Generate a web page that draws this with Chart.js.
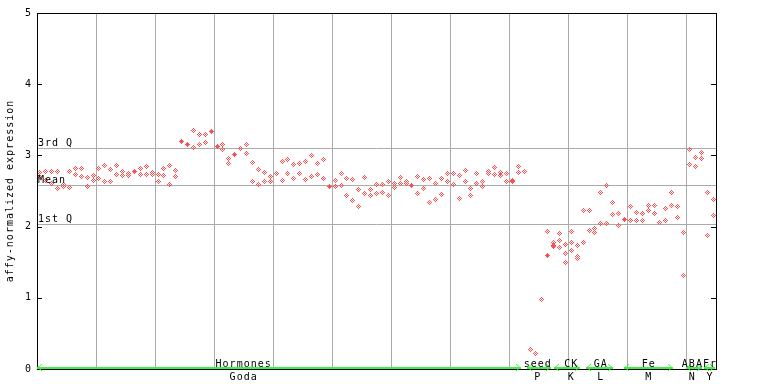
<!DOCTYPE html>
<html><head><meta charset="utf-8">
<script src="https://cdn.jsdelivr.net/npm/chart.js@4"></script>
<style>html,body{margin:0;padding:0;background:#fff;overflow:hidden}canvas{display:block}</style>
</head><body>
<canvas id="c" width="768" height="384"></canvas>
<script>
// ---- data ----
const repA = [
 2.76,2.78,2.77,2.77,2.59,2.77,2.82,2.82,2.69,2.72,
 2.82,2.86,2.80,2.86,2.78,2.75,null,2.82,2.84,2.76,
 2.73,2.82,2.86,2.79,null,null,3.35,3.30,3.30,null,
 null,3.16,2.96,null,3.10,3.16,2.90,2.80,2.76,2.71,
 2.75,2.91,2.94,2.87,2.88,2.92,3.00,2.88,2.94,null,
 2.65,2.75,2.68,2.66,2.52,2.69,2.52,2.59,2.59,2.63,
 2.61,2.69,2.63,null,2.71,2.66,2.68,2.61,2.68,2.75,
 2.75,2.72,2.79,2.54,2.75,2.63,2.78,2.83,2.76,2.75,
 2.65,2.85,2.78,0.27,0.22,0.97,1.93,1.77,1.90,1.75,
 1.93,1.74,2.23,2.23,1.98,2.48,2.58,2.34,2.19,null,
 2.28,2.20,2.18,2.29,2.29,2.06,2.26,2.48,2.28,1.92,
 3.08,2.97,3.04,2.48,2.38
];
const repB = [
 2.70,2.65,2.61,2.54,2.56,2.55,2.73,2.70,2.56,2.65,
 2.68,2.64,2.64,2.73,2.72,2.72,null,2.73,2.73,2.73,
 2.64,2.72,2.59,2.71,null,null,3.11,3.16,3.18,null,
 null,3.08,2.89,null,null,3.03,2.64,2.59,2.63,2.64,
 null,2.65,2.75,2.68,2.75,2.66,2.71,2.73,2.68,null,
 2.56,2.58,2.43,2.36,2.28,2.47,2.44,2.47,2.48,2.44,
 2.55,2.61,2.61,null,2.47,2.54,2.34,2.38,2.45,2.63,
 2.59,2.40,2.63,2.43,2.61,2.57,2.75,2.73,2.72,2.64,
 2.63,2.76,null,0.00,null,null,null,1.74,1.81,1.62,
 1.77,1.58,1.77,1.95,1.92,2.05,2.05,2.17,2.02,null,
 2.08,2.09,2.08,2.22,2.19,null,2.09,2.30,2.13,1.31,
 2.87,2.85,2.95,1.88,2.16
];
const repCCols = [87,88,89,90,91];
const repCVals = [1.72,1.71,1.50,1.66,1.55];
const solidCols = [16,24,25,29,30,33,49,63,86,99];
const solidVals = [2.77,3.19,3.16,3.33,3.12,3.01,2.57,2.58,1.60,2.10];
const yTicks = [0,1,2,3,4,5];
const xGridTicks = [0,10,20,30,40,50,60,70,80,90,100,110];
const quartileNames = ['3rd Q','Mean','1st Q'];
const quartileValues = [3.10,2.58,2.03];
const groupNames = ['Hormones','seed','CK','GA','Fe','ABA','Fr'];
const groupCodes = ['Goda','P','K','L','M','N','Y'];
const groupStart = [0,83,87.5,93,99.5,110,113];
const groupEnd = [82,87,92,97.5,107.7,112.7,114.8];
const groupLabelAt = [35,84.8,90.5,95.5,103.6,111,114];
const yTitle = 'affy-normalized expression';

// ---- styles ----
const RED = 'rgb(255,80,80)';
const GREEN = 'rgb(64,240,64)';
const GRID = '#aaaaaa';
const FONT = '10px "DejaVu Sans Mono"';

function makeDiamond(r, checker){
  const n = 2*r+1, c = document.createElement('canvas');
  c.width = n; c.height = n;
  const g = c.getContext('2d'); g.fillStyle = RED;
  for (let dy=-r; dy<=r; dy++) for (let dx=-r; dx<=r; dx++){
    const d = Math.abs(dx)+Math.abs(dy);
    if (d>r) continue;
    if (checker && ((dx+dy)&1)) continue;
    g.fillRect(dx+r, dy+r, 1, 1);
  }
  return c;
}
const checkerPt = makeDiamond(2, true);
const solidPt = makeDiamond(2, false);

const toPts = arr => arr.map((v,i)=> v==null?null:{x:i+0.5,y:v}).filter(Boolean);
const pairPts = (cols, vals) => cols.map((c,i)=>({x:c+0.5,y:vals[i]}));

function ds(data, style){
  return {type:'scatter', data, pointStyle:style, pointRadius:3, pointHoverRadius:3,
          showLine:false, backgroundColor:RED, borderColor:RED};
}

const deco = {
  id:'deco',
  beforeDatasetsDraw(chart){
    const {ctx, chartArea:a, scales:{y}} = chart;
    ctx.save();
    ctx.strokeStyle = GRID; ctx.lineWidth = 1;
    quartileValues.forEach(v=>{
      const py = Math.round(y.getPixelForValue(v)) + 0.5;
      ctx.beginPath(); ctx.moveTo(a.left, py); ctx.lineTo(a.right, py); ctx.stroke();
    });
    ctx.restore();
    ctx.imageSmoothingEnabled = false;
  },
  afterDatasetsDraw(chart){
    const {ctx, chartArea:a, scales:{x,y}} = chart;
    ctx.save();
    // frame
    ctx.strokeStyle = '#000'; ctx.lineWidth = 1;
    ctx.strokeRect(a.left+0.5, a.top+0.5, a.right-a.left, a.bottom-a.top);
    // inner ticks
    yTicks.forEach(v=>{
      const py = Math.round(y.getPixelForValue(v)) + 0.5;
      ctx.beginPath();
      ctx.moveTo(a.left, py); ctx.lineTo(a.left+5, py);
      ctx.moveTo(a.right-5, py); ctx.lineTo(a.right, py);
      ctx.stroke();
    });
    ctx.font = FONT; ctx.fillStyle = '#000';
    ctx.letterSpacing = '1px';
    // quartile labels
    ctx.textAlign = 'left'; ctx.textBaseline = 'alphabetic';
    quartileValues.forEach((v,i)=>{
      const py = Math.round(y.getPixelForValue(v));
      ctx.fillText(quartileNames[i], a.left+1, py-2);
    });
    // groups
    groupNames.forEach((name,i)=>{
      const xs = Math.round(x.getPixelForValue(groupStart[i]));
      const xe = Math.round(x.getPixelForValue(groupEnd[i]));
      ctx.fillStyle = GREEN;
      ctx.fillRect(xs, a.bottom-2, xe-xs, 2);
      ctx.strokeStyle = GREEN; ctx.lineWidth = 1;
      ctx.beginPath();
      ctx.moveTo(xs+5, a.bottom-5); ctx.lineTo(xs+1, a.bottom-1.5); ctx.lineTo(xs+5, a.bottom+2);
      ctx.moveTo(xe-5, a.bottom-5); ctx.lineTo(xe-1, a.bottom-1.5); ctx.lineTo(xe-5, a.bottom+2);
      ctx.stroke();
      const cx = x.getPixelForValue(groupLabelAt[i]);
      ctx.fillStyle = '#000'; ctx.textAlign = 'center';
      ctx.fillText(name, cx, a.bottom-2);
      ctx.fillText(groupCodes[i], cx, a.bottom+11);
    });
    // y title
    ctx.save();
    ctx.translate(12.5, (a.top+a.bottom)/2);
    ctx.rotate(-Math.PI/2);
    ctx.textAlign = 'center'; ctx.textBaseline = 'alphabetic';
    ctx.fillText(yTitle, 0, 0);
    ctx.restore();
    ctx.restore();
  }
};

new Chart(document.getElementById('c'), {
  type:'scatter',
  data:{datasets:[
    ds(toPts(repA), checkerPt),
    ds(toPts(repB), checkerPt),
    ds(pairPts(repCCols, repCVals), checkerPt),
    ds(pairPts(solidCols, solidVals), solidPt)
  ]},
  options:{
    responsive:false, animation:false, devicePixelRatio:1, events:[],
    layout:{padding:{left:0,right:52,top:13,bottom:0}},
    plugins:{legend:{display:false}, tooltip:{enabled:false}},
    scales:{
      x:{type:'linear', min:0, max:115,
        afterBuildTicks:s=>{s.ticks = xGridTicks.map(v=>({value:v}));},
        afterFit:s=>{s.height = 15;},
        grid:{color:GRID, drawTicks:false, lineWidth:1},
        border:{display:false},
        ticks:{display:false}},
      y:{type:'linear', min:0, max:5,
        afterBuildTicks:s=>{s.ticks = yTicks.map(v=>({value:v}));},
        afterFit:s=>{s.width = 37;},
        grid:{display:false, drawTicks:false},
        border:{display:false},
        ticks:{color:'#000', padding:6, font:{family:'DejaVu Sans Mono', size:10}}}
    }
  },
  plugins:[deco]
});
</script>
</body></html>
